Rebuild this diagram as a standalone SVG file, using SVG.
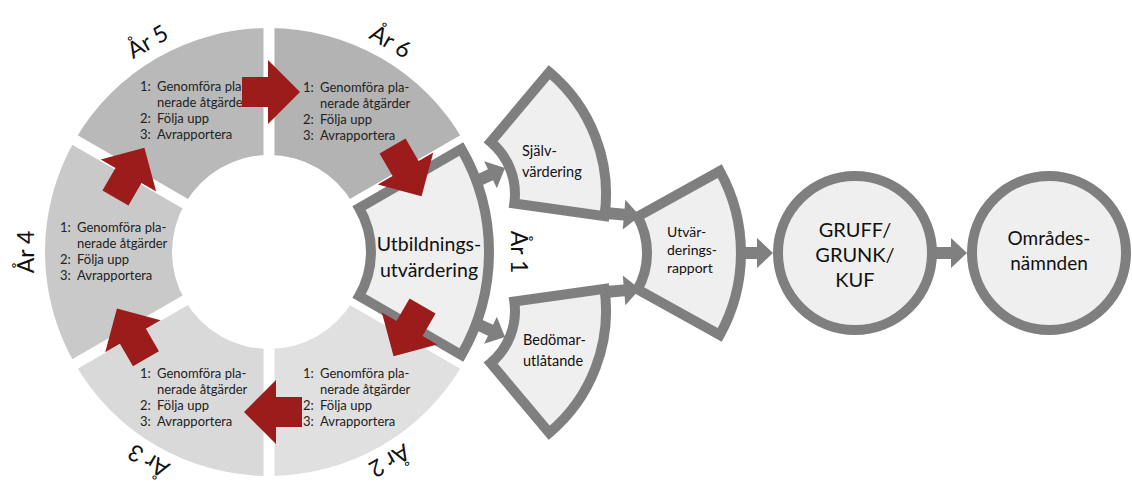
<svg xmlns="http://www.w3.org/2000/svg" xmlns:xlink="http://www.w3.org/1999/xlink" width="1132" height="486" viewBox="0 0 1132 486">
<style>
.seg{stroke:none}
.gap{stroke:#ffffff;stroke-width:11;stroke-linecap:butt}
.node{fill:#efefef;stroke:#7f7f7f;stroke-width:10;stroke-linejoin:miter}
.st{font-family:Lato,"Open Sans","Liberation Sans",sans-serif;font-size:13px;fill:#222}
.yr{font-family:Lato,"Open Sans","Liberation Sans",sans-serif;font-size:23px;fill:#111;text-anchor:middle}
.nt{font-family:Lato,"Open Sans","Liberation Sans",sans-serif;fill:#111}
.red{fill:#9c1b1b}
.gray{fill:#808080}
</style>
<defs>
<path id="ra" d="M-26,-15 L0,-15 L0,-32 L32,0 L0,32 L0,15 L-26,15 Z"/>
<path id="ga" d="M-40,-6 L-16,-6 L-16,-15 L0,0 L-16,15 L-16,6 L-40,6 Z"/>
</defs>
<rect width="1132" height="486" fill="#ffffff"/>

<!-- ring segments -->
<g id="ring">
<path id="seg-ar6" class="seg" fill="#b3b3b3" d="M269,28 A224,224 0 0 1 463,140 L353,203.5 A97,97 0 0 0 269,155 Z"/>
<path id="seg-ar5" class="seg" fill="#b9b9b9" d="M75,140 A224,224 0 0 1 269,28 L269,155 A97,97 0 0 0 185,203.5 Z"/>
<path id="seg-ar4" class="seg" fill="#c9c9c9" d="M75,364 A224,224 0 0 1 75,140 L185,203.5 A97,97 0 0 0 185,300.5 Z"/>
<path id="seg-ar3" class="seg" fill="#d9d9d9" d="M269,476 A224,224 0 0 1 75,364 L185,300.5 A97,97 0 0 0 269,349 Z"/>
<path id="seg-ar2" class="seg" fill="#e0e0e0" d="M463,364 A224,224 0 0 1 269,476 L269,349 A97,97 0 0 0 353,300.5 Z"/>
<line class="gap" x1="269" y1="252" x2="269" y2="20"/>
<line class="gap" x1="269" y1="252" x2="269" y2="484"/>
<line class="gap" x1="269" y1="252" x2="68" y2="136"/>
<line class="gap" x1="269" y1="252" x2="68" y2="368"/>
<line class="gap" x1="269" y1="252" x2="470" y2="136"/>
<line class="gap" x1="269" y1="252" x2="470" y2="368"/>
</g>

<!-- segment texts -->
<g id="ar5">
<text class="st"><tspan x="140" y="91">1:</tspan><tspan x="157" y="91">Genomföra pla-</tspan><tspan x="157" y="107">nerade åtgärder</tspan><tspan x="140" y="123">2:</tspan><tspan x="157" y="123">Följa upp</tspan><tspan x="140" y="139">3:</tspan><tspan x="157" y="139">Avrapportera</tspan></text>
<text class="yr" transform="translate(269 252) rotate(240) translate(235 0) rotate(90)">År 5</text>
</g>
<g id="ar6">
<text class="st"><tspan x="303" y="92">1:</tspan><tspan x="320" y="92">Genomföra pla-</tspan><tspan x="320" y="108">nerade åtgärder</tspan><tspan x="303" y="124">2:</tspan><tspan x="320" y="124">Följa upp</tspan><tspan x="303" y="140">3:</tspan><tspan x="320" y="140">Avrapportera</tspan></text>
<text class="yr" transform="translate(269 252) rotate(300) translate(235 0) rotate(90)">År 6</text>
</g>
<g id="ar4">
<text class="st"><tspan x="60" y="232">1:</tspan><tspan x="77" y="232">Genomföra pla-</tspan><tspan x="77" y="248">nerade åtgärder</tspan><tspan x="60" y="264">2:</tspan><tspan x="77" y="264">Följa upp</tspan><tspan x="60" y="280">3:</tspan><tspan x="77" y="280">Avrapportera</tspan></text>
<text class="yr" transform="translate(269 252) rotate(180) translate(235 0) rotate(90)">År 4</text>
</g>
<g id="ar3">
<text class="st"><tspan x="140" y="378">1:</tspan><tspan x="157" y="378">Genomföra pla-</tspan><tspan x="157" y="394">nerade åtgärder</tspan><tspan x="140" y="410">2:</tspan><tspan x="157" y="410">Följa upp</tspan><tspan x="140" y="426">3:</tspan><tspan x="157" y="426">Avrapportera</tspan></text>
<text class="yr" transform="translate(269 252) rotate(120) translate(233 0) rotate(90)">År 3</text>
</g>
<g id="ar2">
<text class="st"><tspan x="303" y="378">1:</tspan><tspan x="320" y="378">Genomföra pla-</tspan><tspan x="320" y="394">nerade åtgärder</tspan><tspan x="303" y="410">2:</tspan><tspan x="320" y="410">Följa upp</tspan><tspan x="303" y="426">3:</tspan><tspan x="320" y="426">Avrapportera</tspan></text>
<text class="yr" transform="translate(269 252) rotate(60) translate(233 0) rotate(90)">År 2</text>
</g>

<!-- flow connectors (gray) -->
<g id="connectors-flow">
<use xlink:href="#ga" href="#ga" class="gray" transform="translate(505 168) rotate(-25)"/>
<use xlink:href="#ga" href="#ga" class="gray" transform="translate(505 337) rotate(25)"/>
<use xlink:href="#ga" href="#ga" class="gray" transform="translate(640 216) rotate(5)"/>
<use xlink:href="#ga" href="#ga" class="gray" transform="translate(640 289) rotate(-5)"/>
<use xlink:href="#ga" href="#ga" class="gray" transform="translate(773 253)"/>
<use xlink:href="#ga" href="#ga" class="gray" transform="translate(967 253)"/>
</g>

<!-- nodes -->
<g id="utbildningsutvardering">
<path class="node" d="M461.4,149 A206,206 0 0 1 461.4,355 L359.2,296 A88,88 0 0 0 359.2,208 Z"/>
<text class="nt" font-size="19.5" text-anchor="middle"><tspan x="429" y="251">Utbildnings-</tspan><tspan x="429" y="277">utvärdering</tspan></text>
<text class="yr" transform="translate(269 252) translate(242 0) rotate(90)">År 1</text>
</g>
<g id="sjalvvardering">
<path class="node" d="M549.2,72.2 A159,159 0 0 1 604.5,216.1 L514.3,203.5 A68,68 0 0 0 490.7,141.9 Z"/>
<text class="nt" font-size="14.5"><tspan x="522" y="156">Själv-</tspan><tspan x="522" y="177">värdering</tspan></text>
</g>
<g id="bedomarutlatande">
<path class="node" d="M604.5,288.9 A159,159 0 0 1 549.2,432.8 L490.7,363.1 A68,68 0 0 0 514.3,301.5 Z"/>
<text class="nt" font-size="14.5"><tspan x="523" y="345">Bedömar-</tspan><tspan x="523" y="366">utlåtande</tspan></text>
</g>
<g id="utvarderingsrapport">
<path class="node" d="M719.8,171.1 A169,169 0 0 1 719.8,334.9 L637.6,289.4 A75,75 0 0 0 637.6,216.6 Z"/>
<text class="nt" font-size="14"><tspan x="667" y="237">Utvär-</tspan><tspan x="667" y="255">derings-</tspan><tspan x="667" y="273">rapport</tspan></text>
</g>
<g id="gruff">
<circle class="node" cx="855" cy="253" r="77"/>
<text class="nt" font-size="20" text-anchor="middle"><tspan x="855" y="237">GRUFF/</tspan><tspan x="855" y="262">GRUNK/</tspan><tspan x="855" y="287">KUF</tspan></text>
</g>
<g id="omradesnamnden">
<circle class="node" cx="1049" cy="253" r="77"/>
<text class="nt" font-size="19" text-anchor="middle"><tspan x="1049" y="245">Områdes-</tspan><tspan x="1049" y="270">nämnden</tspan></text>
</g>

<!-- cycle connectors (red) -->
<g id="connectors-cycle">
<use xlink:href="#ra" href="#ra" class="red" transform="translate(269 252) rotate(270) translate(160 -1) rotate(90)"/>
<use xlink:href="#ra" href="#ra" class="red" transform="translate(269 252) rotate(330) translate(160 -4) rotate(90)"/>
<use xlink:href="#ra" href="#ra" class="red" transform="translate(269 252) rotate(30) translate(160 -4) rotate(90)"/>
<use xlink:href="#ra" href="#ra" class="red" transform="translate(269 252) rotate(90) translate(160 -7) rotate(90)"/>
<use xlink:href="#ra" href="#ra" class="red" transform="translate(269 252) rotate(150) translate(160 -5) rotate(90)"/>
<use xlink:href="#ra" href="#ra" class="red" transform="translate(269 252) rotate(210) translate(160 -4) rotate(90)"/>
</g>
</svg>
